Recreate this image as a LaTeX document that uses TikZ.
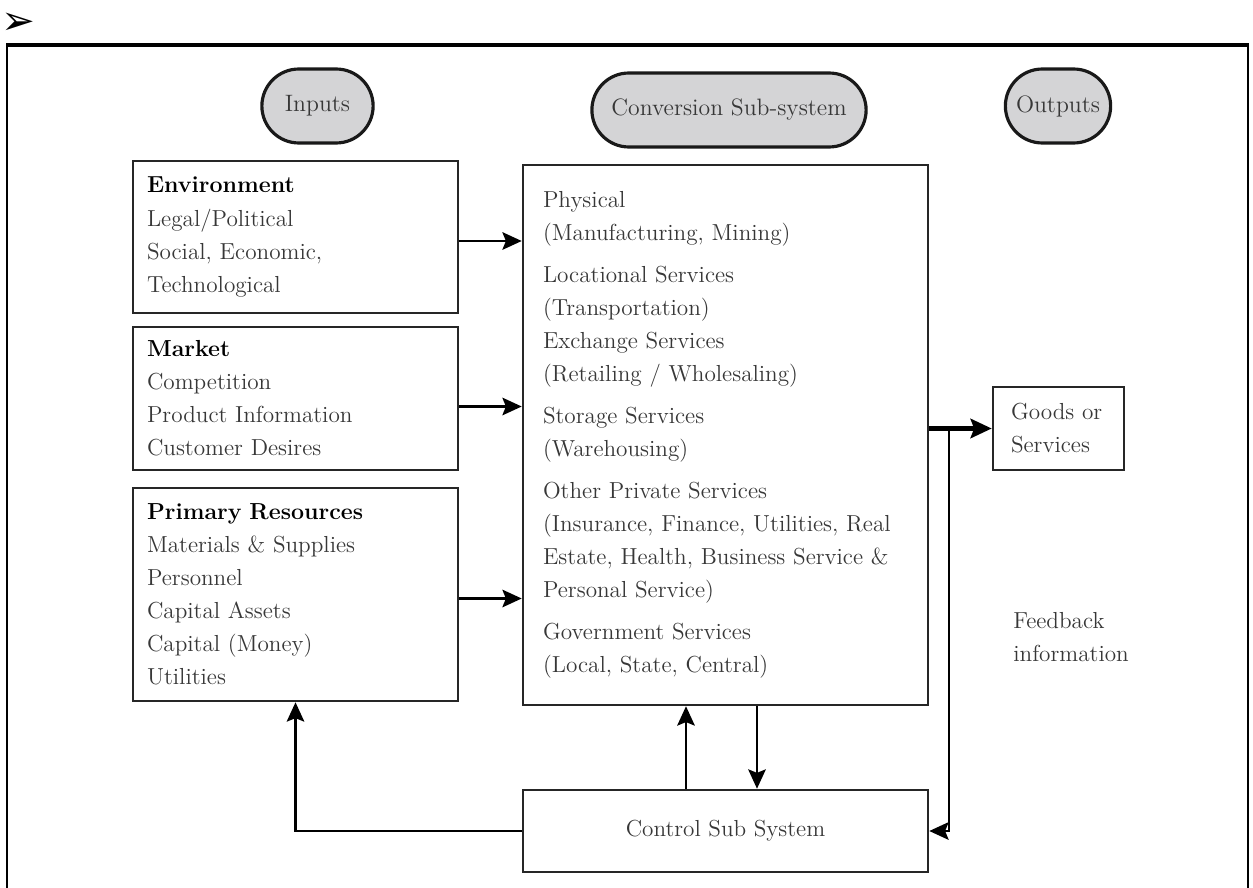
\documentclass[tikz,border=0pt]{standalone}
\usepackage{fontspec}
\newfontfamily\dingfont{DejaVu Sans}
\usetikzlibrary{arrows.meta}
\usetikzlibrary{calc, positioning, shapes.misc}
\definecolor{pillgray}{RGB}{212,212,214}
\definecolor{txtgray}{RGB}{55,55,55}
\newcommand{\kopf}[1]{{\color{black}\bfseries #1}}

\tikzset{
  kasten/.style={draw=black!85, line width=1.5pt, align=left, text=txtgray,
    font=\fontsize{13.2}{18.8}\selectfont},
  pille/.style={rounded rectangle, draw=black!90, line width=1.8pt, fill=pillgray,
    text=txtgray, minimum height=1.48cm, font=\fontsize{13.5}{18.8}\selectfont},
  pfeil/.style={line width=1.3pt, -{Stealth[length=11pt,width=10pt,inset=2pt]}},
}

\begin{document}
\begin{tikzpicture}[x=0.02cm, y=-0.02cm] % Pixelraster, y nach unten

    \useasboundingbox (0,0) rectangle (1253,888);

    % Rahmen und Aufzaehlungszeichen
    \node[font=\dingfont\fontsize{23}{23}\selectfont] (punkt) at (18,24) {➢};
    \draw[line width=2.3pt] (6,45) -- (1249,45);
    \draw[line width=1.2pt] (7,45) -- (7,890);
    \draw[line width=1.2pt] (1248,45) -- (1248,890);

    % Ueberschriften
    \node[pille, minimum width=2.46cm] (inp) at (317.5,106) {Inputs};
    \node[pille, minimum width=5.72cm] (cvs) at (729,110) {Conversion Sub-system};
    \node[pille, minimum width=2.34cm] (outp) at (1058,106) {Outputs};

    % Eingangsgroessen
    \node[kasten, minimum width=6.5cm, minimum height=3.04cm, text width=5.94cm,
      inner xsep=0.28cm] (env) at (295.5,237)
      {\kopf{Environment}\\Legal/Political\\Social, Economic,\\Technological};
    \node[kasten, minimum width=6.5cm, minimum height=2.86cm, text width=5.94cm,
      inner xsep=0.28cm] (mkt) at (295.5,398.5)
      {\kopf{Market}\\Competition\\Product Information\\Customer Desires};
    \node[kasten, minimum width=6.5cm, minimum height=4.26cm, text width=5.94cm,
      inner xsep=0.28cm] (prim) at (295.5,594.5)
      {\kopf{Primary Resources}\\Materials \& Supplies\\Personnel\\Capital Assets\\Capital (Money)\\Utilities};

    % Umwandlung
    \node[kasten, minimum width=8.1cm, minimum height=10.8cm, text width=7.3cm,
      inner xsep=0.4cm] (conv) at (725.5,435)
      {Physical\\(Manufacturing, Mining)\\[5pt]
       Locational Services\\(Transportation)\\
       Exchange Services\\(Retailing / Wholesaling)\\[5pt]
       Storage Services\\(Warehousing)\\[5pt]
       Other Private Services\\(Insurance, Finance, Utilities, Real\\
       Estate, Health, Business Service \&\\Personal Service)\\[5pt]
       Government Services\\(Local, State, Central)};

    % Ausgang und Steuerung
    \node[kasten, minimum width=2.62cm, minimum height=1.66cm, text width=1.9cm,
      inner xsep=0.36cm] (goods) at (1058.5,428.5) {Goods or\\Services};
    \node[kasten, align=center, minimum width=8.1cm, minimum height=1.64cm]
      (ctrl) at (725.5,831) {Control Sub System};
    \node[anchor=west, align=left, inner sep=0pt, text=txtgray,
      font=\fontsize{13.2}{18.8}\selectfont] (fbinfo) at (1013,637)
      {Feedback\\information};

    % Pfeile der Eingaenge
    \foreach \n/\d in {env/4, mkt/8, prim/4} {
        \coordinate (s\n) at ($(\n.east)+(0,\d)$);
        \draw[pfeil] (s\n) -- (s\n -| conv.west);
    }

    % Ausgang und Rueckkopplung
    \draw[line width=2.4pt, -{Stealth[length=12pt,width=11pt,inset=2pt]}]
      (goods.west -| conv.east) -- (goods.west);
    \coordinate (fb) at (949,0);
    \draw[pfeil] (fb |- goods.west) -- (fb |- ctrl.east) -- (ctrl.east);
    \coordinate (hoch) at (686,0);
    \coordinate (runter) at (757,0);
    \draw[pfeil] (hoch |- ctrl.north) -- (hoch |- conv.south);
    \draw[pfeil] (runter |- conv.south) -- (runter |- ctrl.north);
    \draw[pfeil] (ctrl.west) -| (prim.south);

\end{tikzpicture}
\end{document}
